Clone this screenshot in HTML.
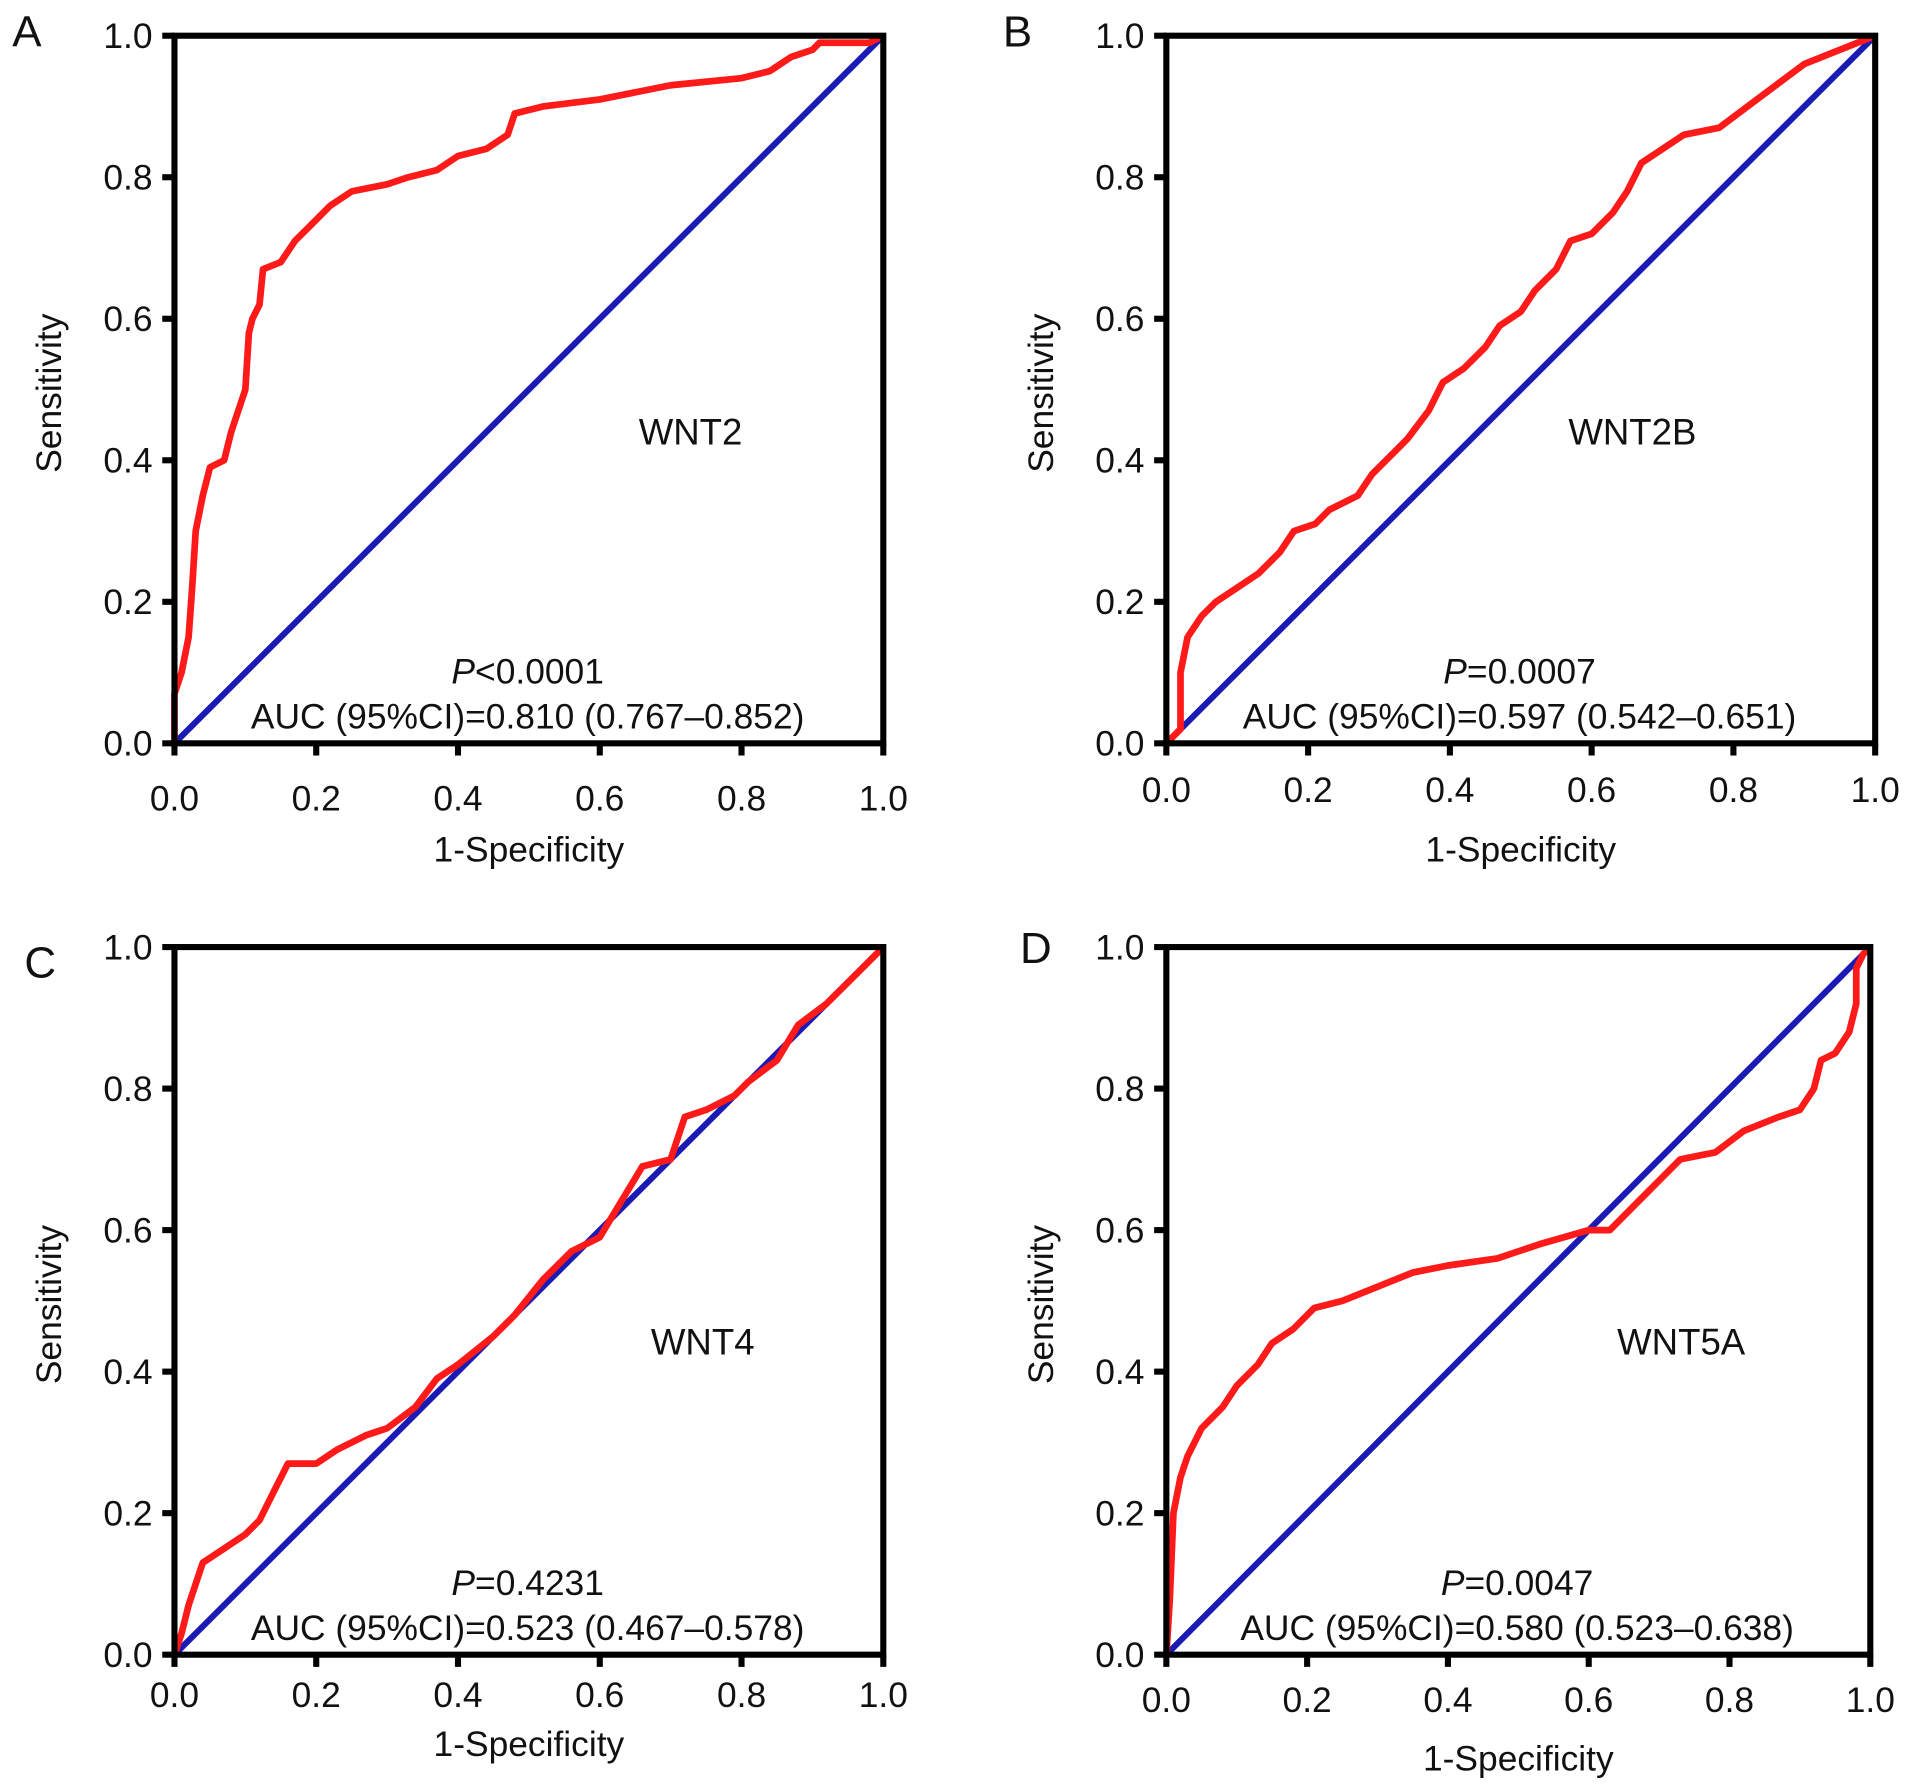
<!DOCTYPE html>
<html><head><meta charset="utf-8"><style>
html,body{margin:0;padding:0;background:#fff}
svg{display:block}
text{font-family:"Liberation Sans",Arial,sans-serif;fill:#111}
</style></head><body>
<svg id="fig" width="1913" height="1788" viewBox="0 0 1568 1465" xmlns="http://www.w3.org/2000/svg"></svg>
<script>
const ticks = [0, 0.2, 0.4, 0.6, 0.8, 1.0];
const tickLabels = ["0.0", "0.2", "0.4", "0.6", "0.8", "1.0"];
const genes = ["WNT2", "WNT2B", "WNT4", "WNT5A"];
const pTexts = ["<0.0001", "=0.0007", "=0.4231", "=0.0047"];
const aucTexts = ["AUC (95%CI)=0.810 (0.767–0.852)", "AUC (95%CI)=0.597 (0.542–0.651)", "AUC (95%CI)=0.523 (0.467–0.578)", "AUC (95%CI)=0.580 (0.523–0.638)"];
const fprA = [0,0,0.01,0.02,0.025,0.03,0.04,0.05,0.07,0.08,0.09,0.1,0.105,0.11,0.12,0.125,0.15,0.17,0.2,0.22,0.25,0.3,0.33,0.37,0.4,0.44,0.47,0.48,0.52,0.6,0.7,0.8,0.84,0.87,0.9,0.91,0.98,1];
const tprA = [0,0.07,0.1,0.15,0.22,0.3,0.35,0.39,0.4,0.44,0.47,0.5,0.58,0.6,0.62,0.67,0.68,0.71,0.74,0.76,0.78,0.79,0.8,0.81,0.83,0.84,0.86,0.89,0.9,0.91,0.93,0.94,0.95,0.97,0.98,0.99,0.99,1];
const fprB = [0,0.02,0.02,0.03,0.05,0.07,0.1,0.13,0.16,0.18,0.21,0.23,0.27,0.29,0.31,0.34,0.37,0.39,0.42,0.45,0.47,0.5,0.52,0.55,0.57,0.6,0.63,0.65,0.67,0.7,0.73,0.78,0.82,0.86,0.9,0.95,1];
const tprB = [0,0.02,0.1,0.15,0.18,0.2,0.22,0.24,0.27,0.3,0.31,0.33,0.35,0.38,0.4,0.43,0.47,0.51,0.53,0.56,0.59,0.61,0.64,0.67,0.71,0.72,0.75,0.78,0.82,0.84,0.86,0.87,0.9,0.93,0.96,0.98,1];
const fprC = [0,0.01,0.02,0.04,0.07,0.1,0.12,0.14,0.16,0.2,0.23,0.27,0.3,0.34,0.37,0.4,0.45,0.48,0.52,0.56,0.6,0.63,0.66,0.7,0.72,0.75,0.79,0.81,0.85,0.88,0.92,0.96,1];
const tprC = [0,0.03,0.07,0.13,0.15,0.17,0.19,0.23,0.27,0.27,0.29,0.31,0.32,0.35,0.39,0.41,0.45,0.48,0.53,0.57,0.59,0.64,0.69,0.7,0.76,0.77,0.79,0.81,0.84,0.89,0.92,0.96,1];
const fprD = [0,0.005,0.01,0.02,0.03,0.05,0.08,0.1,0.13,0.15,0.18,0.21,0.25,0.3,0.35,0.4,0.47,0.53,0.6,0.63,0.66,0.69,0.73,0.78,0.82,0.87,0.9,0.92,0.93,0.95,0.97,0.98,0.98,0.99,1];
const tprD = [0,0.08,0.2,0.25,0.28,0.32,0.35,0.38,0.41,0.44,0.46,0.49,0.5,0.52,0.54,0.55,0.56,0.58,0.6,0.6,0.63,0.66,0.7,0.71,0.74,0.76,0.77,0.8,0.84,0.85,0.88,0.92,0.97,0.99,1];
const fprs = [fprA, fprB, fprC, fprD];
const tprs = [tprA, tprB, tprC, tprD];

const panels = [
 {L:"A", x0:143, x1:724, y0:609, y1:29, lx:10, ly:38, wx:566, wy:364, tl:664, tt:706},
 {L:"B", x0:956, x1:1537, y0:609, y1:29, lx:822, ly:38, wx:1338, wy:364, tl:657, tt:706},
 {L:"C", x0:143, x1:724, y0:1356, y1:776, lx:20, ly:801, wx:576, wy:1110, tl:1399, tt:1439},
 {L:"D", x0:956, x1:1533, y0:1356, y1:776, lx:836, ly:789, wx:1378, wy:1110, tl:1403, tt:1451}
];
const svg = document.getElementById('fig');
const NS = "http://www.w3.org/2000/svg";
function mk(tag, attrs, parent){const e=document.createElementNS(NS,tag);for(const k in attrs)e.setAttribute(k,attrs[k]);(parent||svg).appendChild(e);return e;}
function txt(s, x, y, size, anchor, parent){const t=mk('text',{x:x,y:y,'font-size':size,'text-anchor':anchor||'middle'},parent);t.textContent=s;return t;}

panels.forEach((p,i)=>{
  const g = mk('g',{});
  
  
  const sx = v => p.x0 + v*(p.x1-p.x0);
  const sy = v => p.y0 + v*(p.y1-p.y0);
  const cx = (p.x0+p.x1)/2;
  const d = mk('line',{x1:sx(0),y1:sy(0),x2:sx(1),y2:sy(1),stroke:'#1a1ab4','stroke-width':5},g);
  
  
  const pts = fprs[i].map((f,j)=>sx(f).toFixed(1)+','+sy(tprs[i][j]).toFixed(1)).join(' ');
  const c = mk('polyline',{points:pts,fill:'none',stroke:'#ff1a1a','stroke-width':5.5,'stroke-linejoin':'round'},g);
  
  
  const f = mk('rect',{x:p.x0,y:p.y1,width:p.x1-p.x0,height:p.y0-p.y1,fill:'none',stroke:'#000','stroke-width':5},g);
  
  
  ticks.forEach((t,k)=>{
    mk('line',{x1:sx(t),y1:p.y0,x2:sx(t),y2:p.y0+10,stroke:'#000','stroke-width':5},g);
    mk('line',{x1:p.x0-10,y1:sy(t),x2:p.x0,y2:sy(t),stroke:'#000','stroke-width':5},g);
    const xl = txt(tickLabels[k], sx(t), p.tl, 29, 'middle', g);
    
    
    const yl = txt(tickLabels[k], p.x0-18, sy(t)+10, 29, 'end', g);
    
    
  });
  const xt = txt('1-Specificity', cx, p.tt, 29, 'middle', g);
  
  
  const ymid = (p.y0+p.y1)/2 + 3;
  const yt = txt('Sensitivity', 0, 0, 29, 'middle', g);
  yt.setAttribute('transform','translate('+(p.x0-93)+','+ymid+') rotate(-90)');
  
  
  const lt = txt(p.L, p.lx, p.ly, 36, 'start', g);
  
  
  const gt = txt(genes[i], p.wx, p.wy, 30, 'middle', g);
  
  
  const pt = mk('text',{x:cx-1,y:p.y0-49,'font-size':29,'text-anchor':'middle'},g);
  const it = mk('tspan',{'font-style':'italic'},pt); it.textContent='P';
  const rt = mk('tspan',{},pt); rt.textContent=pTexts[i];
  
  
  const at = txt(aucTexts[i], cx-1, p.y0-12, 29, 'middle', g);
  
  
});
</script>
</body></html>
